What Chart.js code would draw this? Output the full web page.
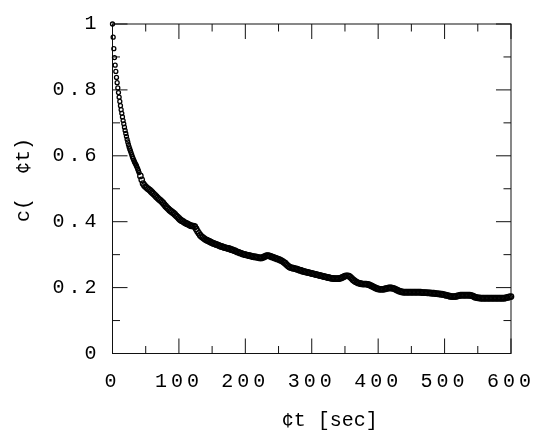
<!DOCTYPE html>
<html>
<head>
<meta charset="utf-8">
<script src="https://cdn.jsdelivr.net/npm/chart.js@4.4.1/dist/chart.umd.min.js"></script>
<style>
  html, body { margin: 0; padding: 0; background: #fff; }
  #wrap { width: 545px; height: 438px; position: relative; }
</style>
</head>
<body>
<div id="wrap"><canvas id="decayChart"></canvas></div>
<script>
// samples every 1 s for t = 0..40
const earlyStep = 1;
const earlyValues = [
  1.000, 0.960, 0.925, 0.898, 0.875, 0.856, 0.838, 0.822, 0.806, 0.792,
  0.778, 0.765, 0.752, 0.740, 0.729, 0.718, 0.707, 0.697, 0.687, 0.677,
  0.668, 0.659, 0.650, 0.642, 0.634, 0.627, 0.621, 0.615, 0.609, 0.603,
  0.597, 0.592, 0.587, 0.582, 0.578, 0.574, 0.570, 0.565, 0.560, 0.555,
  0.549
];
// samples every 2 s for t = 42..600
const lateStart = 42;
const lateStep = 2;
const lateValues = [
  0.539, 0.527, 0.516, 0.510, 0.506, 0.502, 0.499, 0.496, 0.492, 0.488,
  0.484, 0.480, 0.476, 0.472, 0.468, 0.465, 0.461, 0.457, 0.452, 0.447,
  0.443, 0.439, 0.435, 0.432, 0.429, 0.426, 0.422, 0.418, 0.414, 0.410,
  0.406, 0.403, 0.401, 0.398, 0.396, 0.394, 0.392, 0.390, 0.388, 0.387,
  0.387, 0.385, 0.378, 0.371, 0.365, 0.359, 0.355, 0.352, 0.349, 0.346,
  0.344, 0.342, 0.340, 0.338, 0.336, 0.334, 0.333, 0.331, 0.330, 0.328,
  0.326, 0.325, 0.324, 0.322, 0.321, 0.320, 0.319, 0.318, 0.316, 0.315,
  0.313, 0.312, 0.310, 0.308, 0.307, 0.305, 0.304, 0.302, 0.301, 0.300,
  0.299, 0.298, 0.297, 0.296, 0.295, 0.294, 0.293, 0.293, 0.292, 0.291,
  0.290, 0.290, 0.291, 0.293, 0.295, 0.297, 0.297, 0.296, 0.295, 0.293,
  0.292, 0.290, 0.289, 0.287, 0.286, 0.284, 0.282, 0.280, 0.277, 0.274,
  0.270, 0.266, 0.263, 0.261, 0.260, 0.259, 0.258, 0.257, 0.256, 0.254,
  0.253, 0.252, 0.250, 0.249, 0.248, 0.247, 0.246, 0.245, 0.244, 0.243,
  0.242, 0.241, 0.240, 0.239, 0.238, 0.237, 0.236, 0.235, 0.234, 0.233,
  0.232, 0.231, 0.230, 0.229, 0.228, 0.228, 0.227, 0.227, 0.227, 0.227,
  0.228, 0.229, 0.231, 0.233, 0.235, 0.236, 0.236, 0.235, 0.232, 0.228,
  0.224, 0.221, 0.218, 0.216, 0.214, 0.213, 0.212, 0.211, 0.211, 0.211,
  0.211, 0.210, 0.209, 0.207, 0.205, 0.203, 0.201, 0.199, 0.197, 0.196,
  0.195, 0.195, 0.195, 0.195, 0.196, 0.197, 0.198, 0.199, 0.199, 0.199,
  0.198, 0.197, 0.195, 0.193, 0.191, 0.189, 0.188, 0.187, 0.186, 0.186,
  0.186, 0.186, 0.186, 0.186, 0.186, 0.186, 0.186, 0.186, 0.186, 0.186,
  0.186, 0.186, 0.185, 0.185, 0.185, 0.185, 0.184, 0.184, 0.184, 0.183,
  0.183, 0.183, 0.182, 0.182, 0.181, 0.181, 0.180, 0.180, 0.179, 0.178,
  0.177, 0.176, 0.175, 0.174, 0.173, 0.173, 0.173, 0.173, 0.174, 0.175,
  0.176, 0.177, 0.177, 0.177, 0.177, 0.177, 0.177, 0.177, 0.177, 0.176,
  0.175, 0.173, 0.171, 0.170, 0.169, 0.169, 0.168, 0.168, 0.168, 0.168,
  0.168, 0.168, 0.168, 0.168, 0.168, 0.168, 0.168, 0.168, 0.168, 0.168,
  0.168, 0.168, 0.168, 0.168, 0.168, 0.169, 0.170, 0.171, 0.172, 0.173
];

const xMajorTicks = [0, 100, 200, 300, 400, 500, 600];
const xMinorTicks = [50, 150, 250, 350, 450, 550];
const yMajorTicks = [0, 0.2, 0.4, 0.6, 0.8, 1];
const yMinorTicks = [0.1, 0.3, 0.5, 0.7, 0.9];
const xTitle = '¢t [sec]';
const yTitle = 'c(  ¢t)';

const points = earlyValues.map((v, i) => ({ x: i * earlyStep, y: v }))
  .concat(lateValues.map((v, i) => ({ x: lateStart + i * lateStep, y: v })));

const FONT = "'Liberation Mono', 'DejaVu Sans Mono', monospace";

// frame with inward ticks on all four sides, plus the two axis titles
const frameAndTitles = {
  id: 'frameAndTitles',
  beforeDraw(chart) {
    chart.ctx.letterSpacing = '4px';
  },
  beforeDatasetsDraw(chart) {
    const { ctx, chartArea: a, scales: { x, y } } = chart;
    ctx.save();
    ctx.strokeStyle = '#111';
    ctx.lineWidth = 1;
    ctx.strokeRect(a.left, a.top, a.right - a.left, a.bottom - a.top);
    ctx.beginPath();
    const xTick = (vals, len) => vals.forEach(v => {
      const px = x.getPixelForValue(v);
      ctx.moveTo(px, a.bottom); ctx.lineTo(px, a.bottom - len);
      ctx.moveTo(px, a.top); ctx.lineTo(px, a.top + len);
    });
    const yTick = (vals, len) => vals.forEach(v => {
      const py = y.getPixelForValue(v);
      ctx.moveTo(a.left, py); ctx.lineTo(a.left + len, py);
      ctx.moveTo(a.right, py); ctx.lineTo(a.right - len, py);
    });
    xTick(xMajorTicks, 15);
    xTick(xMinorTicks, 7.5);
    yTick(yMajorTicks, 15);
    yTick(yMinorTicks, 7.5);
    ctx.stroke();
    ctx.restore();
  },
  afterDraw(chart) {
    const { ctx, chartArea: a } = chart;
    ctx.save();
    ctx.letterSpacing = '0px';
    ctx.fillStyle = '#000';
    ctx.font = '20px ' + FONT;
    ctx.textAlign = 'center';
    ctx.textBaseline = 'middle';
    ctx.fillText(xTitle, (a.left + a.right) / 2 + 18, 421);
    ctx.translate(24, 180);
    ctx.rotate(-Math.PI / 2);
    ctx.fillText(yTitle, 0, 0);
    ctx.restore();
  }
};

new Chart(document.getElementById('decayChart'), {
  type: 'scatter',
  data: {
    datasets: [{
      data: points,
      pointStyle: 'circle',
      // early samples are drawn as separate small rings, later ones merge into a band
      pointRadius: ctx => ctx.dataIndex < earlyValues.length ? 2 : 2.7,
      pointHoverRadius: 2.7,
      pointBorderWidth: 1.3,
      pointBorderColor: '#000',
      pointBackgroundColor: 'rgba(0,0,0,0)',
      showLine: false,
      clip: false
    }]
  },
  options: {
    responsive: true,
    maintainAspectRatio: false,
    animation: false,
    layout: { padding: { top: 20.5, right: 28.5, left: 0, bottom: 0 } },
    plugins: { legend: { display: false }, tooltip: { enabled: false } },
    scales: {
      x: {
        type: 'linear', min: 0, max: 600,
        ticks: { stepSize: 100, padding: 16, color: '#000', font: { family: FONT, size: 20 } },
        grid: { display: false, drawTicks: false },
        border: { display: false },
        afterFit(s) { s.height = 84.5; }
      },
      y: {
        type: 'linear', min: 0, max: 1,
        ticks: {
          stepSize: 0.2, padding: 12, color: '#000', font: { family: FONT, size: 20 },
          callback: v => (v === 0 || v === 1) ? String(v) : v.toFixed(1)
        },
        grid: { display: false, drawTicks: false },
        border: { display: false },
        afterFit(s) { s.width = 112.5; }
      }
    }
  },
  plugins: [frameAndTitles]
});
</script>
</body>
</html>
